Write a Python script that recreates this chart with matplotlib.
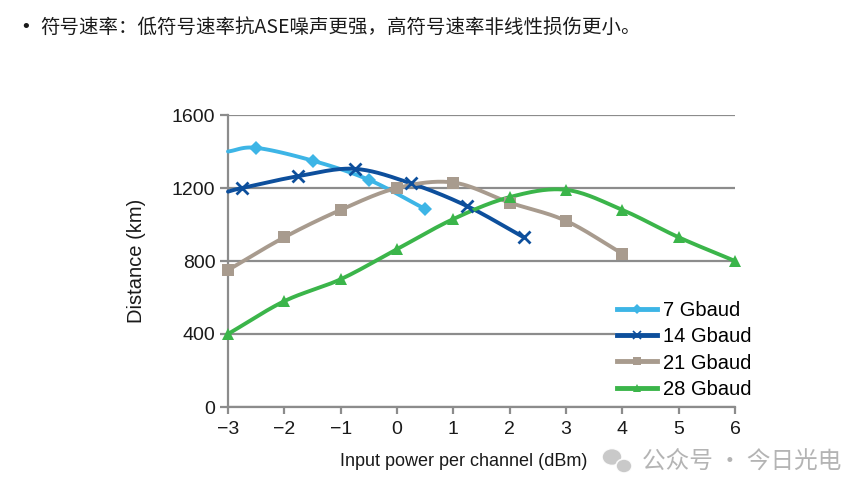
import numpy as np
import matplotlib
matplotlib.use("Agg")
import matplotlib.pyplot as plt
from matplotlib.patches import Ellipse

plt.rcParams['font.family'] = ['Liberation Sans', 'Noto Sans CJK SC', 'DejaVu Sans']

# ---- data -----------------------------------------------------------------
x_7 = [-3, -2.5, -1.5, -0.5, 0.5]
d_7 = [1400, 1420, 1350, 1245, 1085]

x_14 = [-3, -2.75, -1.75, -0.75, 0.25, 1.25, 2.25]
d_14 = [1180, 1200, 1265, 1305, 1225, 1100, 930]

x_21 = [-3, -2, -1, 0, 1, 2, 3, 4]
d_21 = [750, 930, 1080, 1200, 1230, 1120, 1020, 840]

x_28 = [-3, -2, -1, 0, 1, 2, 3, 4, 5, 6]
d_28 = [400, 580, 700, 865, 1030, 1150, 1190, 1080, 930, 800]

labels = ["7 Gbaud", "14 Gbaud", "21 Gbaud", "28 Gbaud"]
colors = ["#3db5e6", "#0d4f9c", "#a89b8e", "#3bb54a"]
markers = ["D", "x", "s", "^"]


def smooth(xs, ys, n=30):
    # Catmull-Rom style curve through the points (like Excel's smoothed line)
    p = np.column_stack([xs, ys]).astype(float)
    p = np.vstack([2 * p[0] - p[1], p, 2 * p[-1] - p[-2]])
    out = []
    t = np.linspace(0, 1, n)[:, None]
    for i in range(1, len(p) - 2):
        p0, p1, p2, p3 = p[i - 1], p[i], p[i + 1], p[i + 2]
        c1 = p1 + (p2 - p0) / 6
        c2 = p2 - (p3 - p1) / 6
        seg = ((1 - t) ** 3) * p1 + 3 * ((1 - t) ** 2) * t * c1 \
            + 3 * (1 - t) * t ** 2 * c2 + t ** 3 * p2
        out.append(seg if i == 1 else seg[1:])
    out = np.vstack(out)
    return out[:, 0], out[:, 1]


fig = plt.figure(figsize=(8.68, 4.97), dpi=100)
ax = fig.add_axes([228 / 868, 1 - 407 / 497, (735 - 228) / 868, (407 - 115) / 497])

series = [(x_7, d_7), (x_14, d_14), (x_21, d_21), (x_28, d_28)]
for (xs, ys), lab, col, mk in zip(series, labels, colors, markers):
    sx, sy = smooth(xs, ys)
    ax.plot(sx, sy, color=col, lw=2.8, solid_capstyle="round", clip_on=False, zorder=3)
    skip = 1 if lab in ("7 Gbaud", "14 Gbaud") else 0
    ms = {"D": 7, "x": 9, "s": 9, "^": 9}[mk]
    ax.plot(xs[skip:], ys[skip:], ls="none", marker=mk, ms=ms, color=col,
            mew=2 if mk == "x" else 0, clip_on=False, zorder=4)
    ax.plot([], [], color=col, lw=3.5, marker=mk, ms=ms * 0.7,
            mew=1.2 if mk == "x" else 0, label=lab)

ax.set_xlim(-3, 6)
ax.set_ylim(0, 1600)
ax.set_xticks(range(-3, 7))
ax.set_yticks([0, 400, 800, 1200, 1600])
ax.grid(axis="y", color="#8c8c8c", lw=1.6)
ax.set_axisbelow(True)
for s in ("top", "right"):
    ax.spines[s].set_visible(False)
for s in ("left", "bottom"):
    ax.spines[s].set_color("#8c8c8c")
    ax.spines[s].set_linewidth(1.6)
ax.tick_params(axis="both", colors="#8c8c8c", width=1.6,
               labelsize=14, labelcolor="#1a1a1a")
ax.tick_params(axis="y", length=6, pad=3)
ax.tick_params(axis="x", length=5, pad=5)
ax.set_xlabel("Input power per channel (dBm)", fontsize=13, color="#1a1a1a")
ax.xaxis.set_label_coords((464 - 228) / 507, -(462 - 407) / 292, transform=ax.transAxes)
ax.xaxis.label.set_va("center")
ax.set_ylabel("Distance (km)", fontsize=14.5, color="#1a1a1a", labelpad=19)

leg = ax.legend(loc="upper left", bbox_to_anchor=(615 / 868, 1 - 299 / 497),
                bbox_transform=fig.transFigure, frameon=True, fontsize=14.5,
                handlelength=2.0, handletextpad=0.3, labelspacing=0.36,
                borderpad=0.1, borderaxespad=0, fancybox=False)
leg.get_frame().set_edgecolor("none")
leg.get_frame().set_facecolor("white")
leg.get_frame().set_alpha(1)

fig.text(22 / 868, 1 - 27 / 497, "•", fontsize=14, va="center", ha="left", color="#1a1a1a")
fig.text(40 / 868, 1 - 27 / 497, "符号速率：低符号速率抗ASE噪声更强，高符号速率非线性损伤更小。",
         fontsize=14, va="center", ha="left", color="#1a1a1a",
         family=["Noto Sans CJK SC", "DejaVu Sans"])

# watermark: little chat-bubble icon plus the account name
for cx, cy, w, h in [(612, 457, 20, 17), (624, 466, 16, 14)]:
    fig.patches.append(Ellipse((cx / 868, 1 - cy / 497), w / 868, h / 497,
                               transform=fig.transFigure, facecolor="#c4c4c4",
                               edgecolor="white", lw=1.2, alpha=0.9))
fig.text(642 / 868, 1 - 462 / 497, "公众号 · 今日光电", fontsize=17, va="center", ha="left",
         color="#b4b4b4", family=["Noto Sans CJK SC", "DejaVu Sans"])

fig.savefig("out.png", dpi=100)
